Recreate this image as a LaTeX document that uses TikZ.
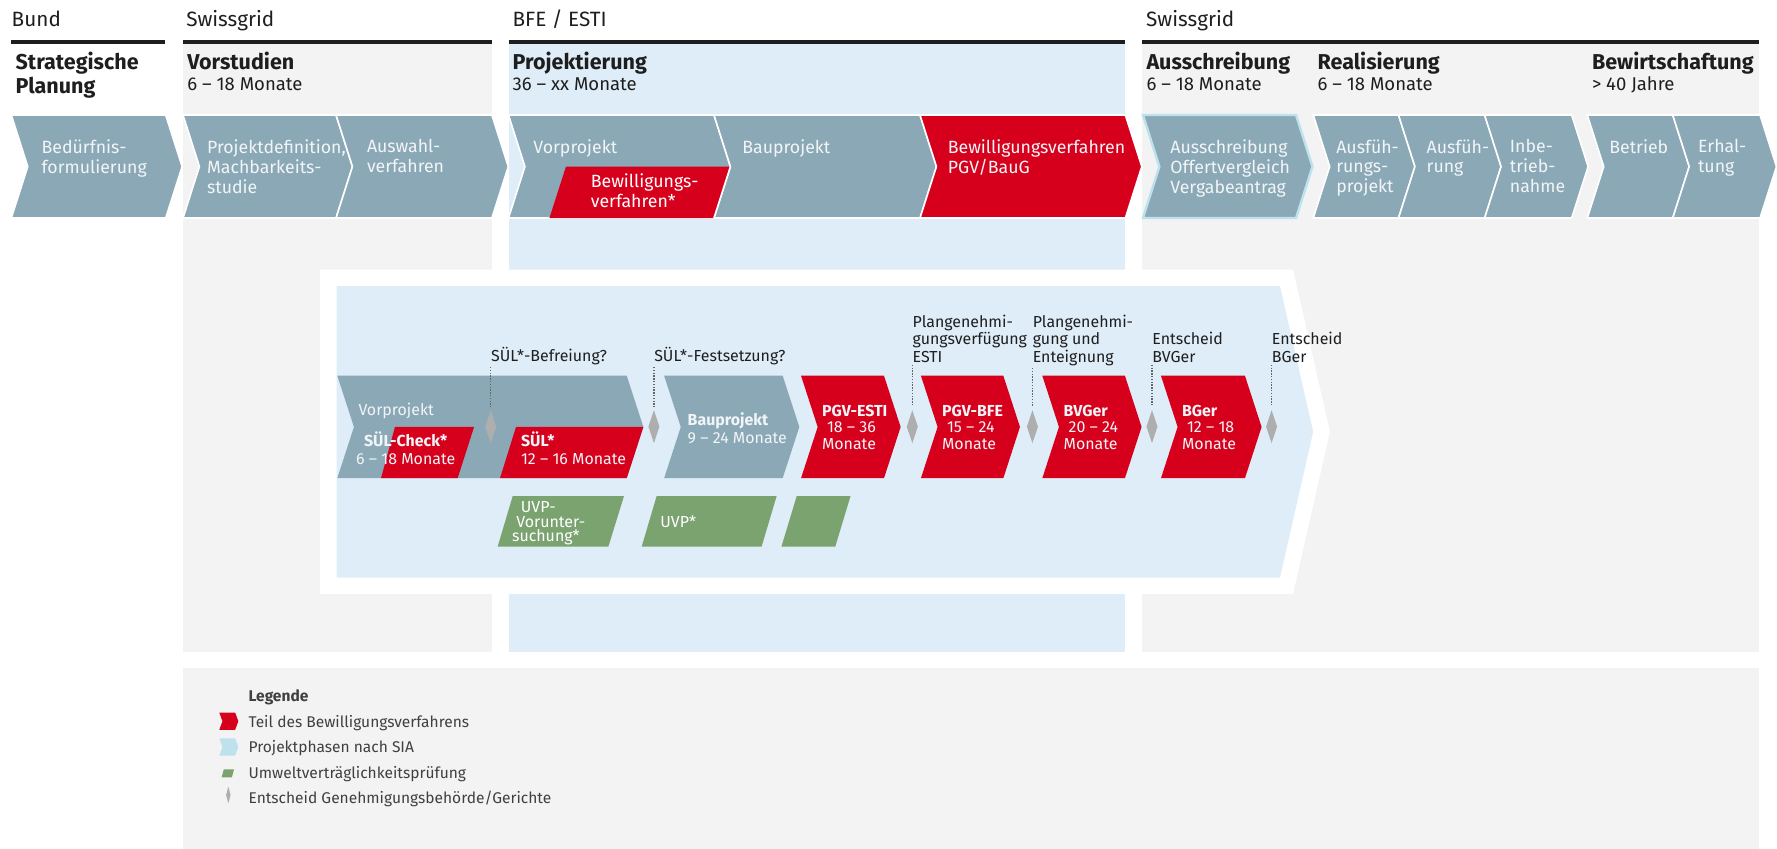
\documentclass[tikz,border=0pt]{standalone}
\usepackage{fontspec}
\setmainfont{Fira Sans}
\usetikzlibrary{shapes.geometric}

\definecolor{bggray}{HTML}{F3F3F3}
\definecolor{bgblue}{HTML}{DFEDF8}
\definecolor{chev}{HTML}{8BA8B7}
\definecolor{swred}{HTML}{D7001C}
\definecolor{uvp}{HTML}{7BA36F}
\definecolor{dia}{HTML}{AEAEAE}
\definecolor{sia}{HTML}{BDE2EE}
\definecolor{ink}{HTML}{1E1E1E}
\definecolor{pale}{HTML}{F2F5F7}
\definecolor{tickgray}{HTML}{666666}

\begin{document}
\begin{tikzpicture}[x=0.02cm,y=-0.02cm,
    hdr/.style={anchor=base west,inner sep=0pt,text=ink,font=\fontsize{10.4}{12}\selectfont},
    phasehead/.style={anchor=north west,inner sep=0pt,align=left,text=ink,font=\fontsize{10.8}{10}\selectfont\bfseries},
    durtxt/.style={anchor=base west,inner sep=0pt,text=ink,font=\fontsize{9.3}{11}\selectfont},
    chevtxt/.style={anchor=north west,inner sep=0pt,align=left,text=pale,font=\fontsize{8.9}{10}\selectfont},
    rowtxt/.style={anchor=north west,inner sep=0pt,align=left,text=pale,font=\fontsize{8}{8.3}\selectfont},
    notetxt/.style={anchor=north west,inner sep=0pt,align=left,text=ink,font=\fontsize{8}{8.7}\selectfont},
    legtxt/.style={anchor=base west,inner sep=0pt,text=ink!85,font=\fontsize{7.8}{9}\selectfont},
    gatedia/.style={diamond,fill=dia,inner sep=0pt,minimum width=5.7pt,minimum height=16.7pt},
    tickline/.style={draw=tickgray,line width=0.7pt,dash pattern=on 0.7pt off 0.7pt,shorten <=1pt,shorten >=1.5pt}]

    \useasboundingbox (0,0) rectangle (1568,749);

    \fill[bggray] (161.5,38) rectangle (434,575);
    \fill[bgblue] (448.7,38) rectangle (992.4,575);
    \fill[bggray] (1007.7,38) rectangle (1552,575);
    \fill[bggray] (161.5,589.6) rectangle (1552,749);

    \foreach \a/\b in {10/146,161.5/434,448.7/992.4,1007.7/1552}
        \draw[ink,line width=1.6pt] (\a,37) -- (\b,37);

    \node[hdr] (bund) at (10,23.5) {Bund};
    \node[hdr] (swiss1) at (164,23.5) {Swissgrid};
    \node[hdr] (bfe) at (452,23.5) {BFE / ESTI};
    \node[hdr] (swiss2) at (1011,23.5) {Swissgrid};

    \node[phasehead] (strat) at (13.5,46) {Strategische\\Planung};
    \node[phasehead] (vorst) at (165,46) {Vorstudien};
    \node[phasehead] (projekt) at (452,46) {Projektierung};
    \node[phasehead] (aussch) at (1011.3,46) {Ausschreibung};
    \node[phasehead] (real) at (1162.3,46) {Realisierung};
    \node[phasehead] (bewirt) at (1404.4,46) {Bewirtschaftung};

    \node[durtxt] (vorstdur) at (165,80) {6 – 18 Monate};
    \node[durtxt] (projektdur) at (452,80) {36 – xx Monate};
    \node[durtxt] (ausschdur) at (1011.3,80) {6 – 18 Monate};
    \node[durtxt] (realdur) at (1162.3,80) {6 – 18 Monate};
    \node[durtxt] (bewirtdur) at (1404.4,80) {> 40 Jahre};

    \foreach \a/\b/\c in {10/146.2/chev,161.5/296.5/chev,296.5/434/chev,448.7/630/chev,630/811.8/chev,811.8/993/swred,1158.8/1234/chev,1234/1310/chev,1310/1386.8/chev,1400.6/1476/chev,1476/1553/chev}
        \filldraw[fill=\c,draw=white,line width=0.8pt] (\a,101.5) -- (\b,101.5) -- (\b+14.5,147) -- (\b,192.4) -- (\a,192.4) -- (\a+14.5,147) -- cycle;
    \filldraw[fill=chev,draw=sia,line width=1.2pt] (1008.5,101.5) -- (1143.6,101.5) -- (1158.1,147) -- (1143.6,192.4) -- (1008.5,192.4) -- (1023,147) -- cycle;
    \fill[swred] (499.4,147) -- (644.5,147) -- (630,192.4) -- (484.8,192.4) -- cycle;
    \draw[white,line width=0.8pt] (644.5,147) -- (630,192.4);

    \node[chevtxt] (beduerf) at (36.4,122.7) {Bedürfnis-\\formulierung};
    \node[chevtxt] (projdef) at (182.4,122.7) {Projektdefinition,\\Machbarkeits-\\studie};
    \node[chevtxt] (auswahl) at (323.5,122.7) {Auswahl-\\verfahren};
    \node[chevtxt] (vorprojekt) at (470.3,122.7) {Vorprojekt};
    \node[chevtxt] (bauprojekt) at (654.7,122.7) {Bauprojekt};
    \node[chevtxt] (pgvbaug) at (836,122.7) {Bewilligungsverfahren\\PGV/BauG};
    \node[chevtxt] (offert) at (1032.4,122.7) {Ausschreibung\\Offertvergleich\\Vergabeantrag};
    \node[chevtxt] (ausfproj) at (1178.8,122.7) {Ausfüh-\\rungs-\\projekt};
    \node[chevtxt] (ausf) at (1258.5,122.7) {Ausfüh-\\rung};
    \node[chevtxt] (inbetr) at (1332,122.7) {Inbe-\\trieb-\\nahme};
    \node[chevtxt] (betrieb) at (1419.7,122.7) {Betrieb};
    \node[chevtxt] (erhalt) at (1498,122.7) {Erhal-\\tung};
    \node[chevtxt,text=white] (bewill) at (521,153) {Bewilligungs-\\verfahren*};

    \fill[white] (282.4,238) -- (1141,238) -- (1173.5,381) -- (1141,524) -- (282.4,524) -- cycle;
    \fill[bgblue] (297,252.4) -- (1129.4,252.4) -- (1158.7,381) -- (1129.4,509.7) -- (297,509.7) -- cycle;

    \foreach \a/\b/\c in {297.6/553/chev,586/690.6/chev,706.8/780/swred,812.6/885.3/swred,919.7/992.6/swred,1024.4/1098.5/swred}
        \fill[\c] (\a,331.5) -- (\b,331.5) -- (\b+14.7,376.75) -- (\b,422) -- (\a,422) -- (\a+14.7,376.75) -- cycle;
    \fill[swred] (348.5,376.75) -- (418.3,376.75) -- (403.8,422) -- (336.2,422) -- cycle;
    \fill[swred] (455.3,376.75) -- (567.7,376.75) -- (553,422) -- (441.2,422) -- cycle;

    \fill[uvp] (452.4,437.7) -- (550.6,437.7) -- (536.8,482.4) -- (439.1,482.4) -- cycle;
    \fill[uvp] (579.4,437.7) -- (685.3,437.7) -- (672,482.4) -- (566.2,482.4) -- cycle;
    \fill[uvp] (703,437.7) -- (750.5,437.7) -- (737,482.4) -- (689.5,482.4) -- cycle;

    \node[rowtxt,anchor=base west] (vp) at (316,366.6) {Vorprojekt};
    \node[rowtxt,anchor=north,align=center,font=\fontsize{8}{8.85}\selectfont] (sulcheck) at (358,380.6) {\textbf{SÜL-Check*}\\6 – 18 Monate};
    \node[rowtxt,font=\fontsize{8}{8.85}\selectfont] (sul) at (459.4,380.6) {\textbf{SÜL*}\\12 – 16 Monate};
    \node[rowtxt,font=\fontsize{8}{8.85}\selectfont] (bp) at (606.5,363.8) {\textbf{Bauprojekt}\\9 – 24 Monate};
    \node[rowtxt] (esti) at (725,357) {\textbf{PGV-ESTI}\\\hspace*{2.5pt}18 – 36\\Monate};
    \node[rowtxt] (pgvbfe) at (830.9,357) {\textbf{PGV-BFE}\\\hspace*{2.5pt}15 – 24\\Monate};
    \node[rowtxt] (bvger) at (938.2,357) {\textbf{BVGer}\\\hspace*{2.5pt}20 – 24\\Monate};
    \node[rowtxt] (bger) at (1042.7,357) {\textbf{BGer}\\\hspace*{2.5pt}12 – 18\\Monate};

    \node[rowtxt,text=white,font=\fontsize{8}{7.4}\selectfont] (uvpvor) at (451.5,442) {\hspace*{4.4pt}UVP-\\\hspace*{2.2pt}Vorunter-\\suchung*};
    \node[rowtxt,text=white,anchor=base west] (uvp) at (582.4,465.1) {UVP*};

    \node[notetxt,anchor=base west] (lab1) at (433,318.8) {SÜL*-Befreiung?};
    \node[notetxt,anchor=base west] (lab2) at (577,318.8) {SÜL*-Festsetzung?};
    \node[notetxt] (lab3) at (805,277.8) {Plangenehmi-\\gungsverfügung\\ESTI};
    \node[notetxt] (lab4) at (911,277.8) {Plangenehmi-\\gung und\\Enteignung};
    \node[notetxt] (lab5) at (1016.5,293.1) {Entscheid\\BVGer};
    \node[notetxt] (lab6) at (1122,293.1) {Entscheid\\BGer};

    \foreach \x [count=\i] in {433,577,805,911,1016.5,1122} {
        \node[gatedia] (g\i) at (\x,376.5) {};
        \draw[tickline] (lab\i.south west) -- (g\i);
    }

    \node[legtxt,font=\fontsize{7.8}{9}\selectfont\bfseries] (leg) at (219,618.8) {Legende};
    \node[legtxt] (leg1) at (219,641.6) {Teil des Bewilligungsverfahrens};
    \node[legtxt] (leg2) at (219,664.2) {Projektphasen nach SIA};
    \node[legtxt] (leg3) at (219,686.6) {Umweltverträglichkeitsprüfung};
    \node[legtxt] (leg4) at (219,709.2) {Entscheid Genehmigungsbehörde/Gerichte};

    \fill[swred] (193.5,628.8) -- (207.5,628.8) -- (210.3,636.4) -- (207.5,644) -- (193.5,644) -- (196.3,636.4) -- cycle;
    \fill[sia] (193.5,651.5) -- (207.5,651.5) -- (210.3,659.1) -- (207.5,666.8) -- (193.5,666.8) -- (196.3,659.1) -- cycle;
    \fill[uvp] (197.5,678.8) -- (206.5,678.8) -- (204.6,685.9) -- (195.6,685.9) -- cycle;
    \fill[dia] (201.5,694.1) -- (203.5,701.5) -- (201.5,708.9) -- (199.5,701.5) -- cycle;
    \end{tikzpicture}
\end{document}
